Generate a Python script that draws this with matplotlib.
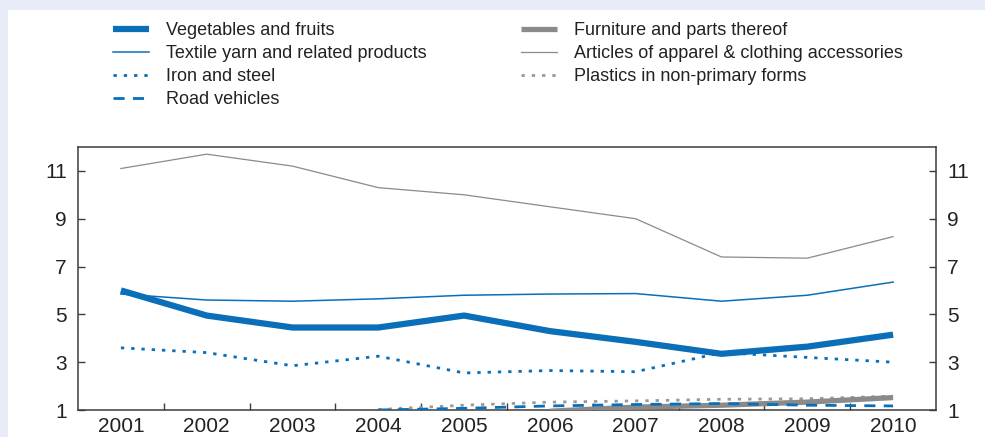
import matplotlib
matplotlib.use('Agg')
import matplotlib.pyplot as plt
from matplotlib.patches import Rectangle

plt.rcParams['font.family'] = ['Liberation Sans', 'DejaVu Sans']

# ---------- data ----------
years = [2001, 2002, 2003, 2004, 2005, 2006, 2007, 2008, 2009, 2010]
vegetables = [6.0, 4.95, 4.45, 4.45, 4.95, 4.3, 3.85, 3.35, 3.65, 4.15]
textile = [5.85, 5.6, 5.55, 5.65, 5.8, 5.85, 5.87, 5.55, 5.8, 6.35]
iron = [3.6, 3.4, 2.85, 3.25, 2.55, 2.65, 2.6, 3.4, 3.2, 3.0]
apparel = [11.1, 11.7, 11.2, 10.3, 10.0, 9.5, 9.0, 7.4, 7.35, 8.25]
road_years = [2004, 2005, 2006, 2007, 2008, 2009, 2010]
road = [1.0, 1.07, 1.17, 1.23, 1.27, 1.2, 1.17]
plastics_years = [2004, 2005, 2006, 2007, 2008, 2009, 2010]
plastics = [1.02, 1.2, 1.33, 1.38, 1.45, 1.47, 1.58]
furniture_years = [2006, 2007, 2008, 2009, 2010]
furniture = [0.95, 1.12, 1.2, 1.33, 1.52]

BLUE = '#0a6fb8'
GREY = '#8a8a8a'
DARK = '#3c3c3c'

fig = plt.figure(figsize=(9.85, 4.37), dpi=100)
fig.patch.set_facecolor('#e7ebf6')
# white panel behind everything
fig.add_artist(Rectangle((8 / 985, 0), 1, 1 - 10 / 437, transform=fig.transFigure,
                         facecolor='white', edgecolor='none', zorder=-10))

ax = fig.add_axes([78 / 985, 1 - 410 / 437, (936 - 78) / 985, (410 - 147) / 437])

h_veg, = ax.plot(years, vegetables, color=BLUE, lw=4.5, solid_capstyle='butt', zorder=5)
h_tex, = ax.plot(years, textile, color=BLUE, lw=1.1, zorder=4)
h_iron, = ax.plot(years, iron, color=BLUE, lw=2.0, linestyle=(0, (1.2, 2.5)), zorder=4)
h_road, = ax.plot(road_years, road, color=BLUE, lw=2.0, linestyle=(0, (4, 3)), zorder=4)
h_furn, = ax.plot(furniture_years, furniture, color=GREY, lw=3.8, solid_capstyle='butt', zorder=3)
h_app, = ax.plot(years, apparel, color=GREY, lw=0.9, zorder=3)
h_pla, = ax.plot(plastics_years, plastics, color='#999999', lw=2.0, linestyle=(0, (1.2, 2.5)), zorder=2)

ax.set_xlim(2000.5, 2010.5)
ax.set_ylim(1, 12)
ax.set_yticks([1, 3, 5, 7, 9, 11])
ax.set_xticks(years)
ax.set_xticks([y + 0.5 for y in years[:-1]], minor=True)
ax.tick_params(axis='x', which='major', length=0, pad=5, labelsize=15, colors='#222222')
ax.tick_params(axis='x', which='minor', direction='in', length=5, width=1, color=DARK)
ax.tick_params(axis='y', direction='in', length=5, width=1, color=DARK, labelsize=15,
               labelcolor='#222222', left=True, right=True, labelleft=True, labelright=True, pad=8)
for s in ax.spines.values():
    s.set_color(DARK)
    s.set_linewidth(1.1)

fig.legend([h_veg, h_tex, h_iron, h_road, h_furn, h_app, h_pla],
           ['Vegetables and fruits', 'Textile yarn and related products', 'Iron and steel',
            'Road vehicles', 'Furniture and parts thereof',
            'Articles of apparel & clothing accessories', 'Plastics in non-primary forms'],
           loc='upper left', bbox_to_anchor=(113 / 985, 1 - 22 / 437), ncol=2, frameon=False,
           prop={'size': 13},
           handlelength=2.0, handletextpad=0.95, columnspacing=5.2, labelspacing=0.33,
           borderaxespad=0, borderpad=0, labelcolor='#222222')

fig.savefig('out.png', dpi=100, facecolor=fig.get_facecolor())
